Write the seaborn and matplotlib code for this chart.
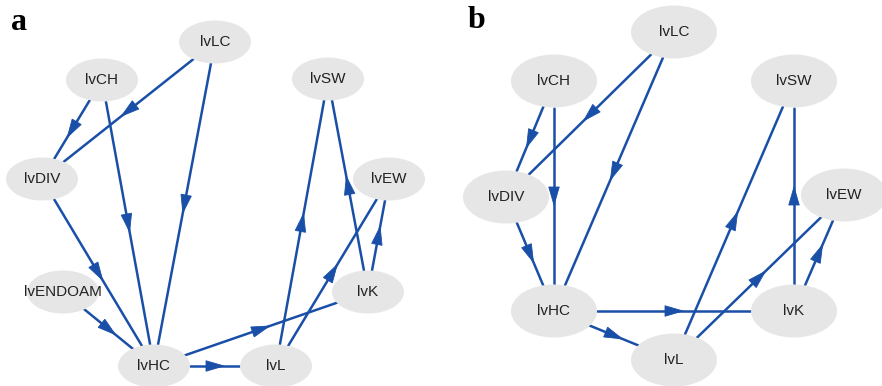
import numpy as np
import pandas as pd
import matplotlib
matplotlib.use("Agg")
import matplotlib.pyplot as plt
from matplotlib.patches import Ellipse, Polygon
import seaborn as sns

# ---- data ----
nodes_a = ["lvLC", "lvCH", "lvSW", "lvDIV", "lvEW", "lvENDOAM", "lvK", "lvHC", "lvL"]
edges_a_from = ["lvLC", "lvLC", "lvCH", "lvCH", "lvDIV", "lvENDOAM", "lvHC", "lvHC", "lvL", "lvL", "lvK", "lvK"]
edges_a_to   = ["lvDIV", "lvHC", "lvDIV", "lvHC", "lvHC", "lvHC", "lvL", "lvK", "lvSW", "lvEW", "lvSW", "lvEW"]

nodes_b = ["lvLC", "lvCH", "lvSW", "lvDIV", "lvEW", "lvHC", "lvK", "lvL"]
edges_b_from = ["lvLC", "lvLC", "lvCH", "lvCH", "lvDIV", "lvHC", "lvHC", "lvL", "lvL", "lvK", "lvK"]
edges_b_to   = ["lvDIV", "lvHC", "lvDIV", "lvHC", "lvHC", "lvK", "lvL", "lvSW", "lvEW", "lvSW", "lvEW"]

panel_labels = ["a", "b"]

# ---- layout (pixel positions) ----
layout_a = {"lvLC": (215, 42), "lvCH": (102, 80), "lvSW": (328, 79), "lvDIV": (42, 179),
            "lvEW": (389, 179), "lvENDOAM": (63, 292), "lvK": (368, 292),
            "lvHC": (154, 366), "lvL": (276, 366)}
layout_b = {"lvLC": (674, 32), "lvCH": (554, 81), "lvSW": (794, 81), "lvDIV": (506, 197),
            "lvEW": (844, 195), "lvHC": (554, 311), "lvK": (794, 311), "lvL": (674, 360)}
size_a = (72, 43)
size_b = (86, 53)
label_pos = [(19, 22), (476, 20)]

EDGE = "#1a4fa8"
NODE = "#e6e6e6"

sns.set_theme(style="white")
plt.rcParams["font.family"] = ["Liberation Sans", "DejaVu Sans"]

fig = plt.figure(figsize=(8.82, 3.86), dpi=100)
ax = fig.add_axes([0, 0, 1, 1])


def boundary(c, other, w, h):
    dx, dy = other[0] - c[0], other[1] - c[1]
    d = np.hypot(dx, dy)
    ux, uy = dx / d, dy / d
    t = 1.0 / np.sqrt((ux / (w / 2)) ** 2 + (uy / (h / 2)) ** 2)
    return c[0] + ux * t, c[1] + uy * t


rows = []
heads = []
panels = [(nodes_a, edges_a_from, edges_a_to, layout_a, size_a),
          (nodes_b, edges_b_from, edges_b_to, layout_b, size_b)]
for p, (nodes, efrom, eto, lay, (w, h)) in enumerate(panels):
    for i, (s, t) in enumerate(zip(efrom, eto)):
        p0 = boundary(lay[s], lay[t], w, h)
        p1 = boundary(lay[t], lay[s], w, h)
        eid = f"{p}-{i}"
        rows.append({"edge": eid, "x": p0[0], "y": p0[1]})
        rows.append({"edge": eid, "x": p1[0], "y": p1[1]})
        heads.append((p0, p1))

df = pd.DataFrame(rows)
sns.lineplot(data=df, x="x", y="y", units="edge", estimator=None, sort=False,
             color=EDGE, linewidth=1.8, ax=ax, legend=False, zorder=2)
ax.set_xlim(0, 882)
ax.set_ylim(386, 0)
ax.axis("off")

L, W = 18.0, 10.5
for p0, p1 in heads:
    mx, my = (p0[0] + p1[0]) / 2, (p0[1] + p1[1]) / 2
    dx, dy = p1[0] - p0[0], p1[1] - p0[1]
    d = np.hypot(dx, dy)
    ux, uy = dx / d, dy / d
    nx, ny = -uy, ux
    tip = (mx + ux * L / 2, my + uy * L / 2)
    base = (mx - ux * L / 2, my - uy * L / 2)
    pts = [tip, (base[0] + nx * W / 2, base[1] + ny * W / 2),
           (base[0] - nx * W / 2, base[1] - ny * W / 2)]
    ax.add_patch(Polygon(pts, closed=True, facecolor=EDGE, edgecolor=EDGE,
                         linewidth=0.6, zorder=3))

for nodes, _, _, lay, (w, h) in panels:
    for n in nodes:
        x, y = lay[n]
        ax.add_patch(Ellipse((x, y), w, h, facecolor=NODE, edgecolor="none", zorder=4))
        ax.text(x, y, n, ha="center", va="center", fontsize=11, color="#222222", zorder=5)

for lab, (x, y) in zip(panel_labels, label_pos):
    ax.text(x, y, lab, ha="center", va="center", fontsize=23, fontweight="bold",
            family=["Liberation Serif", "DejaVu Serif"], color="black", zorder=5)

fig.savefig("out.png", dpi=100)
